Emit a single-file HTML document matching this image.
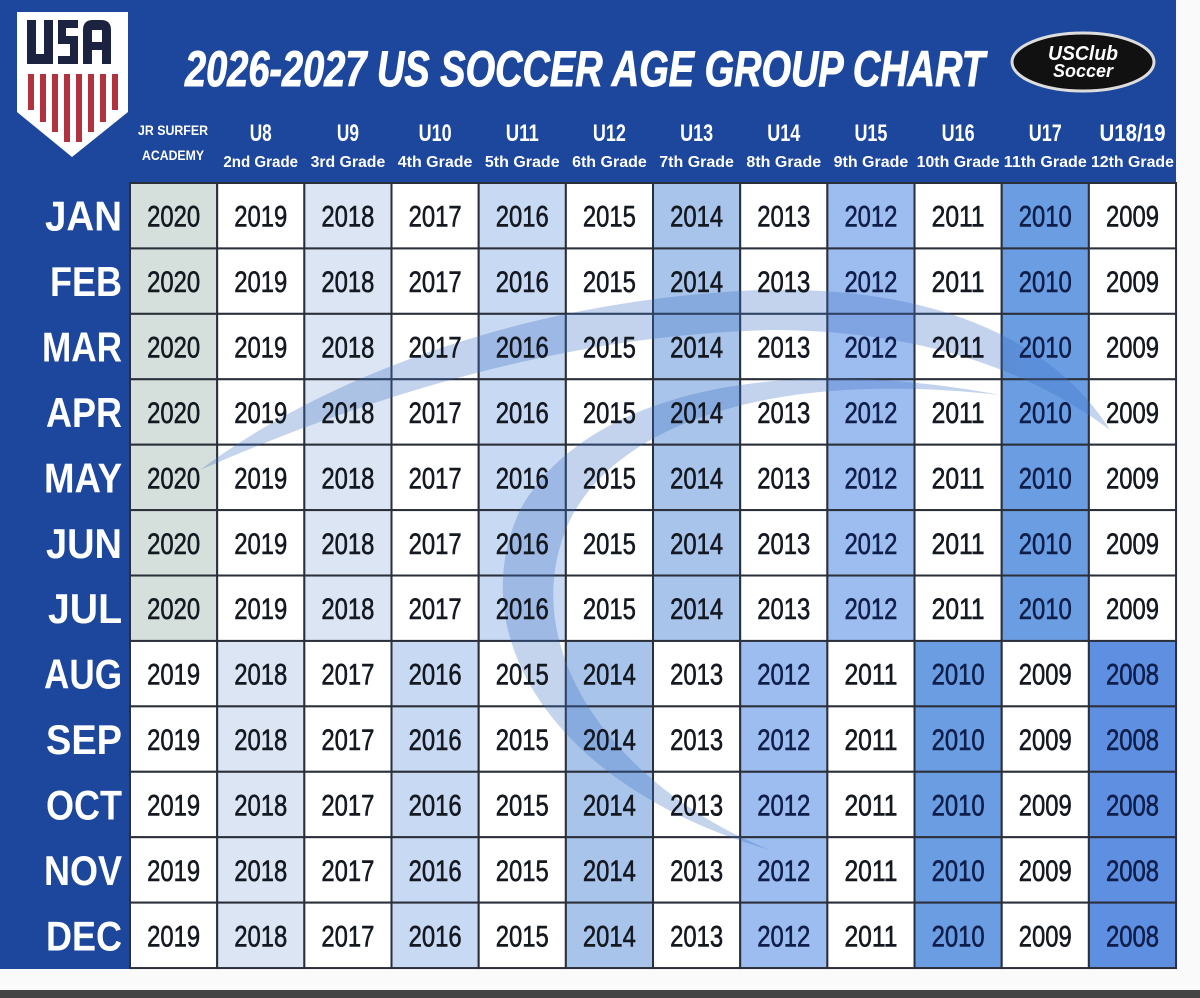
<!DOCTYPE html>
<html><head><meta charset="utf-8"><style>html,body{margin:0;padding:0;background:#fff}svg{display:block}</style></head><body>
<svg width="1200" height="998" viewBox="0 0 1200 998" xmlns="http://www.w3.org/2000/svg" font-family="Liberation Sans, sans-serif">
<rect x="0" y="0" width="1200" height="998" fill="#fafafa"/>
<rect x="0" y="0" width="1176" height="969" fill="#1d479c"/>
<rect x="0" y="990" width="1200" height="8" fill="#444"/>
<!-- shield -->
<path d="M17,12 H128 V112 L72,157 L17,112 Z" fill="#fff"/>
<g fill="#1c2340">
<path d="M27,20 h9 v34 h8 v-34 h9 v44 h-26z"/>
<path d="M58,20 h20 v8 h-12 v8 h12 v28 h-20 v-8 h12 v-12 h-12z"/>
<path d="M83,64 v-34 q0,-10 10,-10 h8 q10,0 10,10 v34 h-9 v-14 h-10 v14z M92,42 h10 v-12 h-10z"/>
</g>
<g fill="#b23340">
<rect x="28" y="74" width="6" height="36"/><rect x="40" y="74" width="6" height="48"/><rect x="52" y="74" width="6" height="58"/><rect x="64" y="74" width="6" height="68"/><rect x="76" y="74" width="6" height="68"/><rect x="88" y="74" width="6" height="58"/><rect x="100" y="74" width="6" height="48"/><rect x="112" y="74" width="6" height="36"/>
</g>
<!-- title -->
<text x="185" y="86" font-size="50" font-weight="bold" font-style="italic" fill="#fff" stroke="#fff" stroke-width="1" textLength="800" lengthAdjust="spacingAndGlyphs">2026-2027 US SOCCER AGE GROUP CHART</text>
<ellipse cx="1083" cy="62" rx="71" ry="29" fill="#111" stroke="#ddd" stroke-width="3"/>
<text x="1083" y="60" font-size="20" font-weight="bold" font-style="italic" fill="#fff" text-anchor="middle" textLength="70" lengthAdjust="spacingAndGlyphs">USClub</text>
<text x="1083" y="77" font-size="18" font-weight="bold" font-style="italic" fill="#fff" text-anchor="middle" textLength="60" lengthAdjust="spacingAndGlyphs">Soccer</text>
<!-- headers -->
<g fill="#fff" font-weight="bold" text-anchor="middle">
<text x="173" y="135" font-size="14" textLength="70" lengthAdjust="spacingAndGlyphs">JR SURFER</text>
<text x="173" y="160" font-size="14" textLength="62" lengthAdjust="spacingAndGlyphs">ACADEMY</text>
</g>
<g id="hdr" fill="#fff" font-weight="bold" text-anchor="middle"></g>
<g id="cells"></g>
<g fill="#3b6fc4" opacity="0.3">
<path d="M200,470 C320,380 520,300 760,290 C950,285 1060,350 1110,430 C1030,370 920,330 770,330 C560,335 360,400 200,470 Z"/>
<path d="M770,850 C560,790 460,640 520,510 C580,400 760,350 1000,395 C780,370 620,420 570,520 C510,650 620,790 770,850 Z"/>
</g>
<g id="txt"></g>
<g id="months" fill="#fff" font-weight="bold" text-anchor="end"></g>
<script>
<![CDATA[
var ns="http://www.w3.org/2000/svg";
function el(p,t,a,txt){var e=document.createElementNS(ns,t);for(var k in a)e.setAttribute(k,a[k]);if(txt!==undefined)e.textContent=txt;document.getElementById(p).appendChild(e);return e;}
var x0=130,cw=87.17,y0=183,rh=65.42;
var U=["U8","U9","U10","U11","U12","U13","U14","U15","U16","U17","U18/19"];
var G=["2nd Grade","3rd Grade","4th Grade","5th Grade","6th Grade","7th Grade","8th Grade","9th Grade","10th Grade","11th Grade","12th Grade"];
for(var i=0;i<11;i++){var cx=x0+cw*(i+1.5);
el("hdr","text",{x:cx,y:141,"font-size":24,textLength:U[i].length*11,lengthAdjust:"spacingAndGlyphs"},U[i]);
el("hdr","text",{x:cx,y:167,"font-size":16,textLength:G[i].length*8.3,lengthAdjust:"spacingAndGlyphs"},G[i]);}
var A=["#d5dfdb","#fff","#dbe5f4","#fff","#c8d9f3","#fff","#a8c4ea","#fff","#9dbcef","#fff","#6b9de2","#fff"];
var B=["#fff","#dbe5f4","#fff","#c8d9f3","#fff","#a8c4ea","#fff","#9dbcef","#fff","#6b9de2","#fff","#5f8fe0"];
var M=["JAN","FEB","MAR","APR","MAY","JUN","JUL","AUG","SEP","OCT","NOV","DEC"];
var ML=[77,72,80,76,78,76,74,78,76,76,78,76];
for(var r=0;r<12;r++){var y=y0+rh*r;
el("months","text",{x:122,y:y+rh/2+15,"font-size":42,textLength:ML[r],lengthAdjust:"spacingAndGlyphs"},M[r]);
for(var c=0;c<12;c++){var x=x0+cw*c;var col=r<7?A[c]:B[c];
el("cells","rect",{x:x,y:y,width:cw,height:rh,fill:col,stroke:"#2a2f3a","stroke-width":2});
var yr=(r<7?2020:2019)-c;var dark=(col=="#6b9de2"||col=="#5f8fe0"||col=="#9dbcef");var f=dark?"#0f1e4a":"#141820";
el("txt","text",{x:x+cw/2,y:y+rh/2+11,"font-size":30,"text-anchor":"middle",fill:f,stroke:f,"stroke-width":0.6,textLength:53,lengthAdjust:"spacingAndGlyphs"},String(yr));}}
]]>
</script>
</svg>
</body></html>
